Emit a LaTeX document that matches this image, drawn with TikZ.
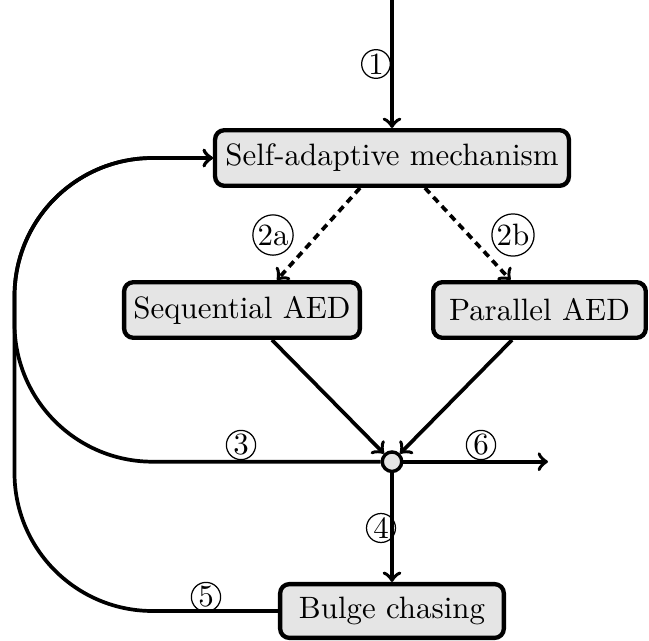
\documentclass[tikz,border=0pt]{standalone}
\usetikzlibrary{calc}
\begin{document}
\begin{tikzpicture}[x=0.3236pt,y=-0.3236pt,
  box/.style={draw,line width=1.4pt,rounded corners=3pt,fill=gray!20,inner sep=0pt,minimum height=18pt,font=\fontsize{10pt}{12pt}\selectfont},
  conn/.style={line width=1.2pt,->},
  dconn/.style={line width=1.2pt,->,dash pattern=on 2.3pt off 1.7pt},
  lab/.style={circle,draw,line width=0.4pt,inner sep=0.35pt,font=\fontsize{10pt}{12pt}\selectfont},
  junc/.style={circle,draw,line width=1.1pt,fill=gray!20,minimum size=6.3pt,inner sep=0pt}]
\useasboundingbox (0,0) rectangle (649,641);
\node[box,minimum width=114.5pt] (self) at (392,158) {Self-adaptive mechanism};
\node[box,minimum width=76.3pt] (seq) at (242,310) {Sequential AED};
\node[box,minimum width=68.8pt] (par) at (539.5,310) {Parallel AED};
\node[box,minimum width=72.4pt,minimum height=17.4pt] (bulge) at (392,611) {Bulge chasing};
\node[junc] (j) at (392,461.7) {};
\coordinate (top) at (392,0);
\coordinate (out) at (548,461.7);
% 1
\draw[conn] (top) -- (self.north);
% 2a, 2b
\draw[dconn] ($(self.south)+(-32,0)$) -- ($(seq.north)+(35,0)$);
\draw[dconn] ($(self.south)+(33,0)$) -- ($(par.north)+(-29,0)$);
% to junction
\draw[conn] ($(seq.south)+(30,0)$) -- (j);
\draw[conn] ($(par.south)+(-27.5,0)$) -- (j);
% 3
\draw[conn,rounded corners=44.7pt] (j.west) -- (14.5,461.7) -- (14.5,158) -- (self.west);
% 5
\draw[conn,rounded corners=44.7pt] (bulge.west) -- (14.5,611) -- (14.5,158) -- (self.west);
% 4
\draw[conn] (j.south) -- (bulge.north);
% 6
\draw[conn] (j.east) -- (out);
% labels
\node[lab] (l1) at (376,64) {1};
\node[lab] (l2a) at (273,235) {2a};
\node[lab] (l2b) at (513,235) {2b};
\node[lab] (l3) at (241,445) {3};
\node[lab] (l6) at (481,445) {6};
\node[lab] (l4) at (381,528) {4};
\node[lab] (l5) at (206,597) {5};
\end{tikzpicture}
\end{document}
